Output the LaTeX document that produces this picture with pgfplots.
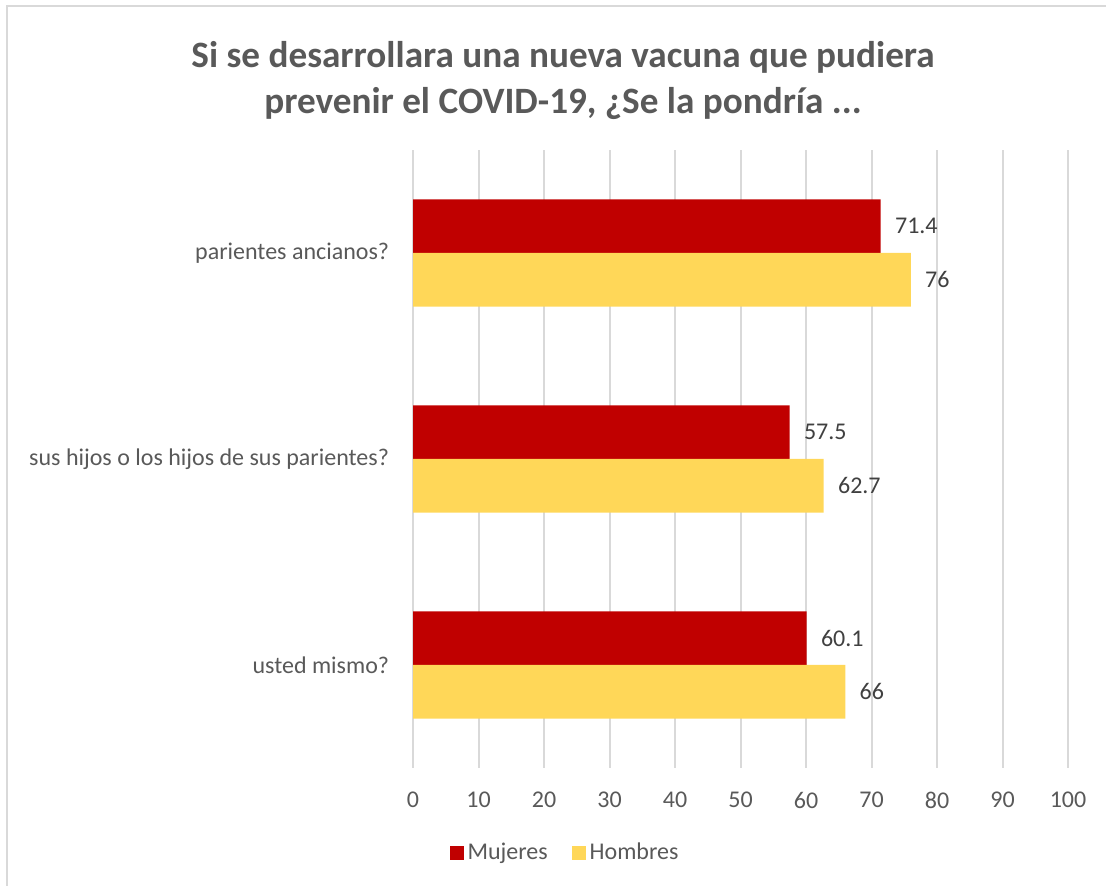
\documentclass[border=0pt]{standalone}
\usepackage{fontspec}
\setmainfont{Carlito}
\usepackage{pgfplots}
\pgfplotsset{compat=1.18}

\definecolor{mujeres}{HTML}{C00000}
\definecolor{hombres}{HTML}{FFD758}
\definecolor{txtgray}{HTML}{595959}
\definecolor{lblgray}{HTML}{404040}
\definecolor{gridgray}{HTML}{D9D9D9}

\begin{document}
% 1 px of the reference = 0.5pt, y counted from the bottom
\begin{tikzpicture}[x=0.5pt,y=0.5pt]
  \path[use as bounding box] (0,0) rectangle (1106,886);
  \draw[gridgray, line width=1pt] (7,0) -- (7,880) -- (1106,880);
  \node[font=\fontsize{18.6}{23}\selectfont\bfseries, text=txtgray, align=center]
    at (563,805) {Si se desarrollara una nueva vacuna que pudiera\\prevenir el COVID-19, ¿Se la pondría ...};
  \begin{axis}[
      at={(206.5pt,59pt)}, anchor=south west,
      scale only axis, width=327.5pt, height=309pt,
      xbar, bar width=0.26,
      xmin=0, xmax=100, ymin=-0.5, ymax=2.5,
      xtick={0,10,...,100},
      ytick={0,1,2},
      yticklabels={usted mismo?, sus hijos o los hijos de sus parientes?, parientes ancianos?},
      xmajorgrids, grid style={gridgray, line width=1pt},
      axis line style={draw=none}, tick style={draw=none},
      /pgf/number format/assume math mode=true,
      tick label style={font=\fontsize{12}{14}\selectfont, text=txtgray},
      x tick label style={anchor=north, inner sep=0pt, yshift=-12pt},
      y tick label style={anchor=east, inner sep=0pt, xshift=-7.5pt},
      nodes near coords,
      every node near coord/.append style={anchor=west, inner sep=0pt, xshift=7pt,
        font=\fontsize{12}{14}\selectfont, text=lblgray},
      legend columns=2,
      legend style={at={(0.2336,-0.1375)}, anchor=center, draw=none,
        font=\fontsize{12}{14}\selectfont, text=txtgray,
        /tikz/every even column/.append style={column sep=10pt}},
      legend image code/.code={\fill[#1,draw=none] (0pt,-3.5pt) rectangle (7pt,3.5pt);},
    ]
    \addplot[fill=mujeres, draw=none, bar shift=0.13]
      coordinates {(60.1,0) (57.5,1) (71.4,2)};
    \addlegendentry{Mujeres}
    \addplot[fill=hombres, draw=none, bar shift=-0.13]
      coordinates {(66,0) (62.7,1) (76,2)};
    \addlegendentry{Hombres}
  \end{axis}
\end{tikzpicture}
\end{document}
